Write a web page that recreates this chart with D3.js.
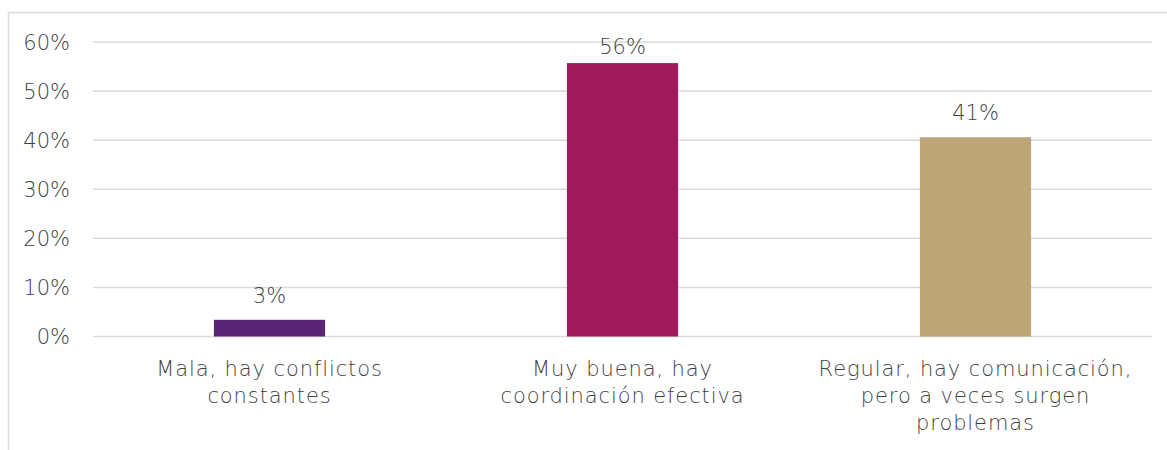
<!DOCTYPE html>
<html>
<head>
<meta charset="utf-8">
<script src="https://cdn.jsdelivr.net/npm/d3@7"></script>
<style>
  body { margin: 0; background: #fff; }
  text { font-family: "DejaVu Sans ExtraLight", "DejaVu Sans", sans-serif; font-weight: 200; fill: #3f3f3f; }
</style>
</head>
<body>
<div id="chart"></div>
<script>
// chart data
var categories = [
  ["Mala, hay conflictos", "constantes"],
  ["Muy buena, hay", "coordinación efectiva"],
  ["Regular, hay comunicación,", "pero a veces surgen", "problemas"]
];
var values = [3.4, 55.7, 40.6];
var valueLabels = ["3%", "56%", "41%"];
var barColors = ["#582473", "#a11b5c", "#bda577"];
var yTicks = [0, 10, 20, 30, 40, 50, 60];

var width = 1167, height = 450;
var margin = {top: 42, right: 15, bottom: 115, left: 93};

var svg = d3.select("#chart").append("svg")
    .attr("width", width)
    .attr("height", height);

// outer frame
svg.append("rect")
    .attr("x", 8.5).attr("y", 12.5)
    .attr("width", width + 20).attr("height", height + 20)
    .attr("fill", "none")
    .attr("stroke", "#d9d9d9")
    .attr("stroke-width", 1.5);

var x = d3.scaleBand()
    .domain(d3.range(categories.length))
    .range([margin.left, width - margin.right])
    .padding(0);

var y = d3.scaleLinear()
    .domain([0, 60])
    .range([height - margin.bottom + 1.5, margin.top]);

// gridlines
svg.append("g")
    .selectAll("line")
    .data(yTicks)
    .enter()
    .append("line")
    .attr("x1", margin.left)
    .attr("x2", width - margin.right)
    .attr("y1", d => y(d))
    .attr("y2", d => y(d))
    .attr("stroke", "#d9d9d9")
    .attr("stroke-width", 1.5);

// y tick labels
svg.append("g")
    .selectAll("text")
    .data(yTicks)
    .enter()
    .append("text")
    .attr("x", 70)
    .attr("y", d => y(d) + 7.5)
    .attr("text-anchor", "end")
    .style("font-size", "21px")
    .text(d => d + "%");

// bars
var barW = x.bandwidth() * 0.315;
svg.append("g")
    .selectAll("rect")
    .data(values)
    .enter()
    .append("rect")
    .attr("x", (d, i) => x(i) + (x.bandwidth() - barW) / 2)
    .attr("width", barW)
    .attr("y", d => y(d))
    .attr("height", d => y(0) - y(d))
    .attr("fill", (d, i) => barColors[i]);

// value labels
svg.append("g")
    .selectAll("text")
    .data(values)
    .enter()
    .append("text")
    .attr("x", (d, i) => x(i) + x.bandwidth() / 2)
    .attr("y", d => Math.max(y(d) - 17, 54))
    .attr("text-anchor", "middle")
    .style("font-size", "21px")
    .text((d, i) => valueLabels[i]);

// category labels
var cat = svg.append("g")
    .selectAll("text")
    .data(categories)
    .enter()
    .append("text")
    .attr("text-anchor", "middle")
    .style("font-size", "21px")
    .style("letter-spacing", "0.9px");

cat.selectAll("tspan")
    .data((d, i) => d.map(t => ({t: t, i: i})))
    .enter()
    .append("tspan")
    .attr("x", d => x(d.i) + x.bandwidth() / 2)
    .attr("y", (d, j) => 376 + j * 27)
    .text(d => d.t);
</script>
</body>
</html>
